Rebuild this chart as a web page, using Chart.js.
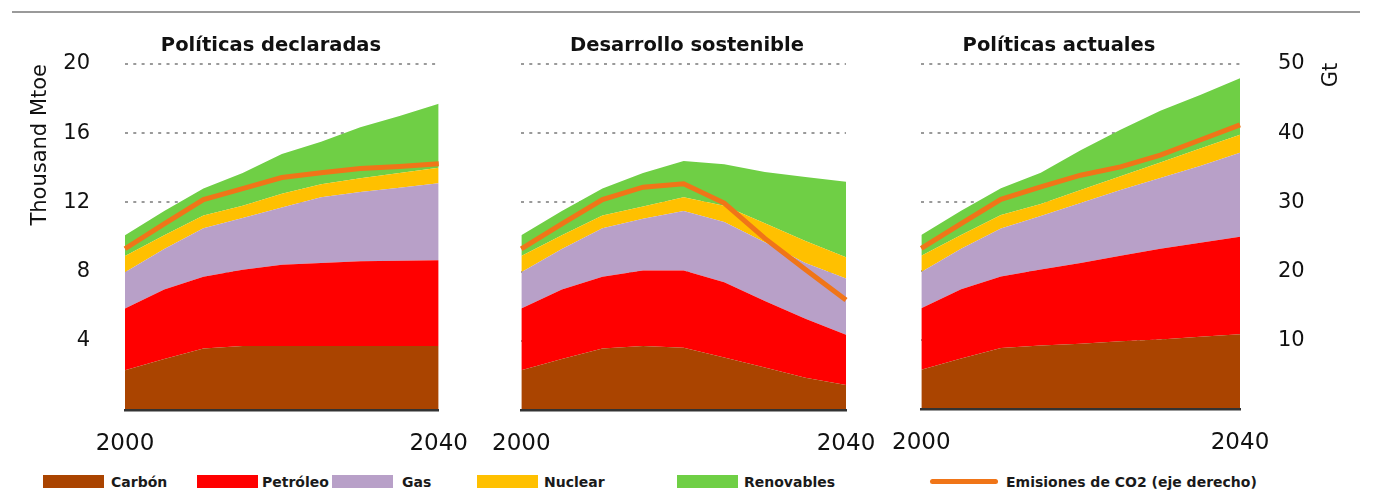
<!DOCTYPE html>
<html>
<head>
<meta charset="utf-8">
<script src="https://cdn.jsdelivr.net/npm/chart.js@4.4.1/dist/chart.umd.min.js"></script>
<style>
    body { margin: 0; background: #fff; width: 1376px; height: 490px; overflow: hidden; position: relative; font-family: 'DejaVu Sans', sans-serif; }
    #topRule { position: absolute; left: 12px; top: 11px; width: 1348px; border-top: 2px solid #9a9a9a; }
    canvas { position: absolute; top: 0; }
    #c1 { left: 0; }
    #c2 { left: 480px; }
    #c3 { left: 880px; }
    .lgBox { position: absolute; top: 475px; width: 61px; height: 13px; }
    .lgLine { position: absolute; top: 479px; width: 68px; height: 5px; border-radius: 3px; }
    .lgText { position: absolute; top: 475px; font: bold 14px/14px 'DejaVu Sans', sans-serif; color: #1a1a1a; white-space: nowrap; }
</style>
</head>
<body>
<div id="topRule"></div>
<canvas id="c1" width="480" height="460"></canvas>
<canvas id="c2" width="420" height="460"></canvas>
<canvas id="c3" width="496" height="460"></canvas>
<div id="legend"></div>

<script>
const years = ['2000', '2005', '2010', '2015', '2020', '2025', '2030', '2035', '2040'];
const seriesNames = ['Carbón', 'Petróleo', 'Gas', 'Nuclear', 'Renovables'];
const co2Name = 'Emisiones de CO2 (eje derecho)';
const panelTitles = ['Políticas declaradas', 'Desarrollo sostenible', 'Políticas actuales'];
const leftAxisTitle = 'Thousand Mtoe';
const rightAxisTitle = 'Gt';

// Políticas declaradas (thousand Mtoe)
const declCarbon = [2.3, 2.95, 3.55, 3.7, 3.7, 3.7, 3.7, 3.7, 3.7];
const declOil = [3.56, 4.01, 4.15, 4.4, 4.7, 4.8, 4.9, 4.92, 4.95];
const declGas = [2.1, 2.34, 2.8, 3.0, 3.3, 3.8, 4.0, 4.23, 4.45];
const declNuclear = [0.94, 0.8, 0.75, 0.7, 0.8, 0.75, 0.8, 0.85, 0.9];
const declRenew = [1.2, 1.4, 1.55, 1.9, 2.3, 2.45, 2.95, 3.3, 3.7];
const declCO2 = [23.3, 26.9, 30.4, 32.0, 33.6, 34.3, 34.9, 35.2, 35.6];

// Desarrollo sostenible
const sostCarbon = [2.3, 2.95, 3.55, 3.7, 3.6, 3.03, 2.45, 1.87, 1.45];
const sostOil = [3.56, 4.01, 4.15, 4.36, 4.46, 4.35, 3.85, 3.4, 2.9];
const sostGas = [2.1, 2.34, 2.8, 2.99, 3.44, 3.48, 3.4, 3.23, 3.25];
const sostNuclear = [0.94, 0.8, 0.75, 0.72, 0.8, 0.94, 1.1, 1.27, 1.23];
const sostRenew = [1.2, 1.4, 1.55, 1.93, 2.1, 2.4, 2.96, 3.7, 4.37];
const sostCO2 = [23.3, 26.9, 30.4, 32.2, 32.7, 29.9, 24.8, 20.3, 15.9];

// Políticas actuales
const actCarbon = [2.3, 2.95, 3.55, 3.7, 3.8, 3.95, 4.05, 4.2, 4.35];
const actOil = [3.56, 4.01, 4.15, 4.4, 4.68, 4.95, 5.25, 5.45, 5.65];
const actGas = [2.1, 2.34, 2.77, 3.1, 3.47, 3.8, 4.1, 4.45, 4.86];
const actNuclear = [0.94, 0.8, 0.78, 0.7, 0.75, 0.8, 0.9, 1.0, 1.04];
const actRenew = [1.2, 1.4, 1.55, 1.8, 2.3, 2.7, 3.0, 3.1, 3.27];
const actCO2 = [23.3, 26.9, 30.4, 32.2, 33.9, 35.1, 36.8, 39.0, 41.2];

const colors = ['#AA4400', '#FF0000', '#B8A0C8', '#FFC000', '#6FCF45'];
const co2Color = '#F07518';
const textColor = '#111';
const fontFamily = 'DejaVu Sans';

// titles above panels and the rotated unit on the right axis
const panelText = {
    id: 'panelText',
    afterDraw(chart, args, o) {
        const ctx = chart.ctx;
        ctx.save();
        ctx.fillStyle = textColor;
        ctx.font = 'bold 19.5px "' + fontFamily + '"';
        ctx.textAlign = 'center';
        ctx.textBaseline = 'alphabetic';
        ctx.fillText(o.title, o.titleX, 51);
        if (o.unit) {
            ctx.font = '21px "' + fontFamily + '"';
            ctx.translate(o.unitX, 75);
            ctx.rotate(-Math.PI / 2);
            ctx.textBaseline = 'middle';
            ctx.fillText(o.unit, 0, 0);
        }
        ctx.restore();
    }
};

function makePanel(id, title, values, co2, cfg) {
    const datasets = values.map((v, i) => ({
        label: seriesNames[i],
        data: v,
        backgroundColor: colors[i],
        borderWidth: 0,
        fill: i === 0 ? 'origin' : '-1',
        pointRadius: 0,
        tension: 0,
        order: 1,
        yAxisID: 'y'
    }));
    datasets.push({
        label: co2Name,
        data: co2,
        borderColor: co2Color,
        borderWidth: 5,
        fill: false,
        pointRadius: 0,
        tension: 0,
        order: 0,
        yAxisID: 'y2'
    });

    return new Chart(document.getElementById(id), {
        type: 'line',
        data: { labels: years, datasets: datasets },
        plugins: [panelText],
        options: {
            responsive: false,
            animation: false,
            layout: { padding: { left: cfg.padL, right: cfg.padR, top: 64, bottom: 0 } },
            plugins: {
                legend: { display: false },
                tooltip: { enabled: false },
                panelText: { title: title, titleX: cfg.titleX, unit: cfg.unit, unitX: cfg.unitX }
            },
            scales: {
                x: {
                    grid: { display: false },
                    border: { display: true, color: '#333', width: 2.5, z: 1 },
                    ticks: {
                        autoSkip: false,
                        maxRotation: 0,
                        padding: 12,
                        color: textColor,
                        font: { family: fontFamily, size: 23 },
                        callback: (v, i) => (i === 0 || i === years.length - 1) ? years[i] : ''
                    },
                    afterFit: s => { s.height = 50; }
                },
                y: {
                    stacked: true,
                    min: 0,
                    max: 20,
                    afterFit: s => { s.width = cfg.yWidth; },
                    grid: { color: '#9a9a9a', lineWidth: 2, drawTicks: false },
                    border: { display: false, dash: [3, 5.3] },
                    ticks: {
                        display: cfg.leftTicks,
                        stepSize: 4,
                        padding: 35,
                        color: textColor,
                        font: { family: fontFamily, size: 21 },
                        callback: v => v === 0 ? '' : v
                    },
                    title: {
                        display: cfg.leftTicks,
                        text: leftAxisTitle,
                        align: 'end',
                        color: textColor,
                        font: { family: fontFamily, size: 21 },
                        padding: { top: 28, bottom: 0 }
                    }
                },
                y2: {
                    position: 'right',
                    display: cfg.rightTicks,
                    min: 0,
                    max: 50,
                    afterFit: s => { s.width = cfg.y2Width; },
                    grid: { display: false, drawTicks: false },
                    border: { display: false },
                    ticks: {
                        stepSize: 10,
                        padding: 38,
                        color: textColor,
                        font: { family: fontFamily, size: 21 },
                        callback: v => v === 0 ? '' : v
                    }
                }
            }
        }
    });
}

makePanel('c1', panelTitles[0], [declCarbon, declOil, declGas, declNuclear, declRenew], declCO2,
    { padL: 0, padR: 31, yWidth: 125, y2Width: 0, leftTicks: true, rightTicks: false, titleX: 271 });
makePanel('c2', panelTitles[1], [sostCarbon, sostOil, sostGas, sostNuclear, sostRenew], sostCO2,
    { padL: 41, padR: 54, yWidth: 0, y2Width: 0, leftTicks: false, rightTicks: false, titleX: 207 });
makePanel('c3', panelTitles[2], [actCarbon, actOil, actGas, actNuclear, actRenew], actCO2,
    { padL: 36, padR: 0, yWidth: 0, y2Width: 136, leftTicks: false, rightTicks: true, titleX: 179, unit: rightAxisTitle, unitX: 452 });

// legend row under the panels
const legendBoxX = [43, 197, 332, 477, 677, 930];
const legendTextX = [111, 262, 402, 544, 744, 1006];
const legend = document.getElementById('legend');
seriesNames.concat([co2Name]).forEach((name, i) => {
    const mark = document.createElement('div');
    const isLine = i === seriesNames.length;
    mark.className = isLine ? 'lgLine' : 'lgBox';
    mark.style.left = legendBoxX[i] + 'px';
    mark.style.background = isLine ? co2Color : colors[i];
    legend.appendChild(mark);
    const txt = document.createElement('div');
    txt.className = 'lgText';
    txt.style.left = legendTextX[i] + 'px';
    txt.textContent = name;
    legend.appendChild(txt);
});
</script>
</body>
</html>
